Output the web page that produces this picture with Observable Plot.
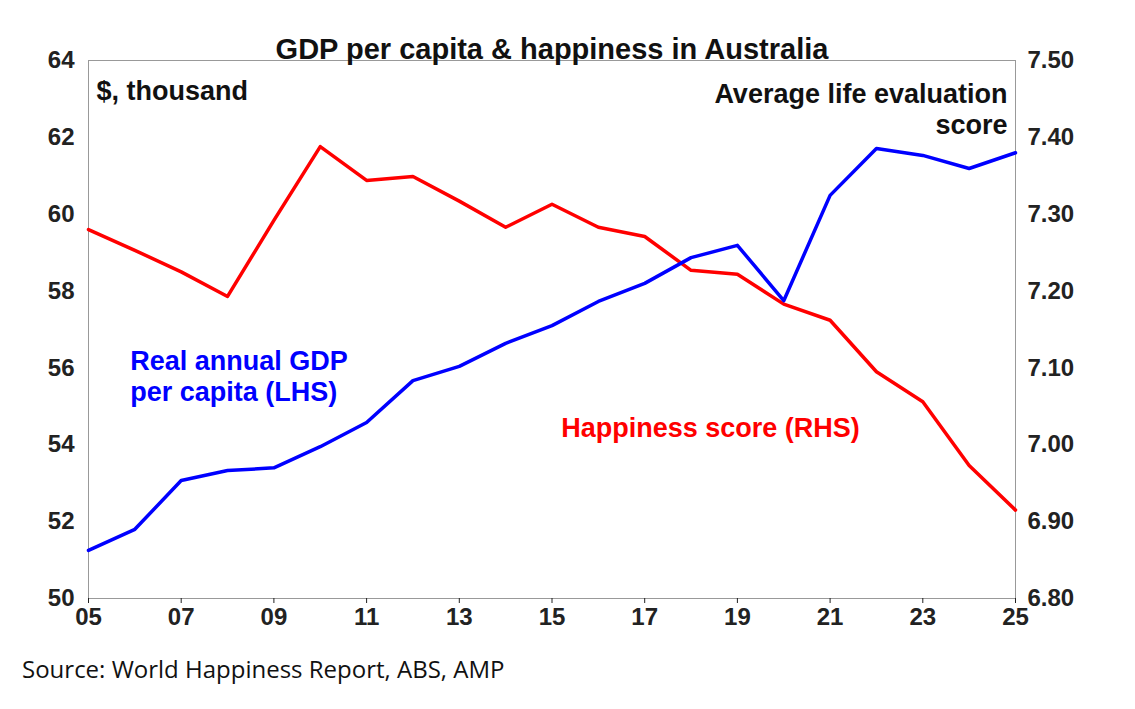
<!DOCTYPE html>
<html><head><meta charset="utf-8">
<script src="https://cdn.jsdelivr.net/npm/d3@7"></script>
<script src="https://cdn.jsdelivr.net/npm/@observablehq/plot@0.6"></script>
<style>body{margin:0;background:#fff;font-family:"Liberation Sans",Arial,sans-serif}
#cap{font-family:"Open Sans",sans-serif;font-size:24px;margin:2px 0 0 22px;color:#111}</style>
</head><body><div id="chart"></div><div id="cap">Source: World Happiness Report, ABS, AMP</div>
<script>
const years=[5,6,7,8,9,10,11,12,13,14,15,16,17,18,19,20,21,22,23,24,25];
const gdp=[51.25,51.8,53.07,53.33,53.4,53.95,54.58,55.67,56.04,56.64,57.1,57.73,58.2,58.87,59.19,57.75,60.49,61.71,61.53,61.19,61.6];
const happy=[7.28,7.253,7.225,7.193,7.292,7.388,7.344,7.349,7.317,7.283,7.313,7.283,7.271,7.227,7.222,7.183,7.162,7.095,7.056,6.973,6.915];
const leftTicks=[50,52,54,56,58,60,62,64];
const xTicks=[5,7,9,11,13,15,17,19,21,23,25];
const toL=v=>50+(v-6.8)/0.7*14;
const toR=d=>(6.8+(d-50)/20).toFixed(2);
const gdpData=years.map((y,i)=>({x:y,v:gdp[i]}));
const hapData=years.map((y,i)=>({x:y,v:toL(happy[i])}));
const plot=Plot.plot({
  width:1135,height:650,marginLeft:88,marginRight:120,marginTop:60,marginBottom:52,
  style:{fontFamily:"Liberation Sans, Arial, sans-serif",fontSize:"24px",fontWeight:"bold",color:"#222"},
  x:{domain:[5,25]},y:{domain:[50,64]},
  marks:[
    Plot.frame({stroke:"#999"}),
    Plot.axisX({ticks:xTicks,tickFormat:d=>String(d).padStart(2,"0"),tickSize:5,label:null}),
    Plot.axisY({anchor:"left",ticks:leftTicks,tickSize:0,tickPadding:14,label:null}),
    Plot.axisY({anchor:"right",ticks:leftTicks,tickFormat:toR,tickSize:0,tickPadding:12,label:null}),
    Plot.line(hapData,{x:"x",y:"v",stroke:"#ff0000",strokeWidth:3.5}),
    Plot.line(gdpData,{x:"x",y:"v",stroke:"#0000ff",strokeWidth:3.5}),
    Plot.text(["GDP per capita & happiness in Australia"],{frameAnchor:"top",dy:-22,fontSize:29,fontWeight:"bold",fill:"#111"}),
    Plot.text(["$, thousand"],{frameAnchor:"top-left",dx:8,dy:20,textAnchor:"start",fontSize:27,fontWeight:"bold",fill:"#111"}),
    Plot.text(["Average life evaluation\nscore"],{frameAnchor:"top-right",dx:-8,dy:20,textAnchor:"end",lineHeight:1.15,fontSize:27,fontWeight:"bold",fill:"#111"}),
    Plot.text(["Real annual GDP\nper capita (LHS)"],{x:5.9,y:55.8,textAnchor:"start",lineHeight:1.15,fontSize:27,fontWeight:"bold",fill:"#0000ff"}),
    Plot.text(["Happiness score (RHS)"],{x:15.2,y:54.42,textAnchor:"start",fontSize:27,fontWeight:"bold",fill:"#ff0000"})
  ]
});
document.getElementById("chart").append(plot);
</script></body></html>
